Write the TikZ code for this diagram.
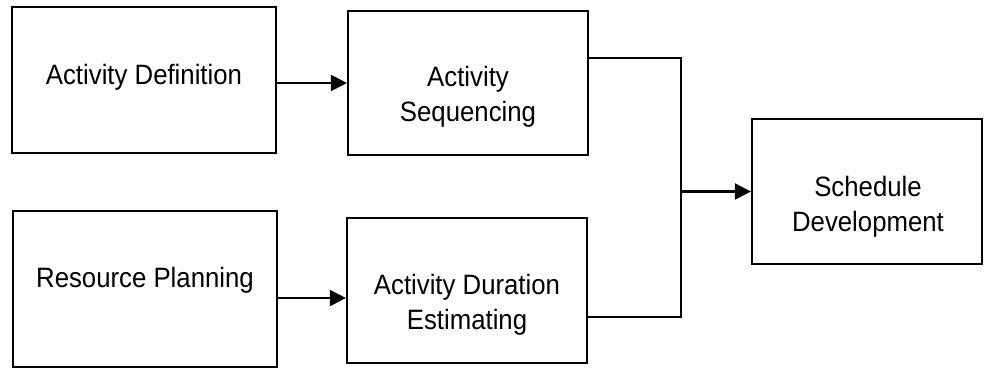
\documentclass[tikz,border=0pt]{standalone}
\usepackage{fontspec}
\setmainfont[FakeStretch=0.92]{Liberation Sans}
\usetikzlibrary{arrows.meta}
\begin{document}
\begin{tikzpicture}[x=1pt,y=-1pt,
  box/.style={draw=black,line width=2.2pt,rectangle,inner sep=0pt},
  lbl/.style={align=center,font=\fontsize{28}{35}\selectfont,inner sep=0pt},
  conn/.style={draw=black,line width=2.2pt},
  arr/.style={conn,-{Triangle[length=16pt,width=16pt]}}]
\useasboundingbox (0,0) rectangle (984,369);
% boxes
\node[box,minimum width=264pt,minimum height=146pt] (A) at (144,80) {};
\node[box,minimum width=240pt,minimum height=144pt] (B) at (468,83) {};
\node[box,minimum width=264pt,minimum height=156pt] (C) at (145,289) {};
\node[box,minimum width=240pt,minimum height=145pt] (D) at (467,290.5) {};
\node[box,minimum width=230pt,minimum height=145pt] (E) at (867,191.5) {};
% texts
\node[lbl] (tA) at (144,77) {Activity Definition};
\node[lbl] (tB) at (468,97) {Activity\\Sequencing};
\node[lbl] (tC) at (145,280) {Resource Planning};
\node[lbl] (tD) at (467,305) {Activity Duration\\Estimating};
\node[lbl] (tE) at (868,207) {Schedule\\Development};
% connectors
\draw[arr] (A.east |- B.west) -- (B.west);
\coordinate (dIn) at ([yshift=-7.5pt]D.west);
\draw[arr] (C.east |- dIn) -- (dIn);
\coordinate (J) at (681,191.5);
\coordinate (bOut) at ([yshift=25pt]B.east);
\coordinate (dOut) at ([yshift=-26.5pt]D.east);
\draw[conn] (bOut) -| (J) |- (dOut);
\draw[arr] (J) -- (E.west);
\end{tikzpicture}
\end{document}
